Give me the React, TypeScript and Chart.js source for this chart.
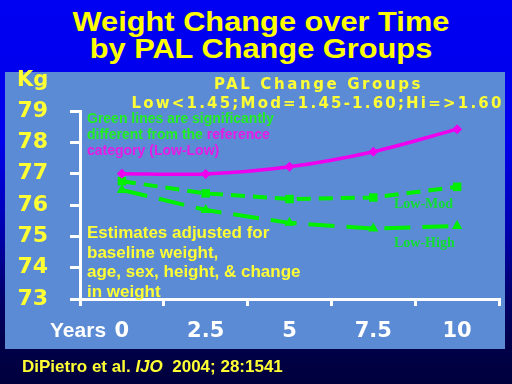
import React, { useEffect, useRef } from 'react';
import { Chart, registerables } from 'chart.js';

Chart.register(...registerables);

// ---- data ----
const years = ['0', '2.5', '5', '7.5', '10'];
const lowLow = [77.0, 76.99, 77.22, 77.7, 78.42];
const lowMod = [76.76, 76.37, 76.19, 76.24, 76.58];
const lowHigh = [76.48, 75.84, 75.43, 75.25, 75.33];
const yMin = 73;
const yMax = 79;

// ---- text ----
const titleLines = ['Weight Change over Time', 'by PAL Change Groups'];
const legendTitle = 'PAL Change Groups';
const legendSub = 'Low<1.45;Mod=1.45-1.60;Hi=>1.60';
const yUnit = 'Kg';
const xUnit = 'Years';
const noteLines = ['baseline weight,', 'age, sex, height, & change', 'in weight'];
const noteFirst = 'Estimates adjusted for';
const modLabel = 'Low-Mod';
const highLabel = 'Low-High';

const YELLOW = '#ffff33';
const GREEN = '#00f000';
const MAGENTA = '#ee00ee';

export default function App() {
  const ref = useRef<HTMLCanvasElement>(null);

  useEffect(() => {
    if (!ref.current) return;
    const chart = new Chart(ref.current, {
      type: 'line',
      data: {
        labels: years,
        datasets: [
          {
            label: 'Low-Low',
            data: lowLow,
            borderColor: MAGENTA,
            backgroundColor: MAGENTA,
            borderWidth: 3.5,
            tension: 0.3,
            pointStyle: 'rectRot',
            pointRadius: 5,
            pointBorderWidth: 0,
            pointBackgroundColor: MAGENTA,
          },
          {
            label: 'Low-Mod',
            data: lowMod,
            borderColor: GREEN,
            backgroundColor: GREEN,
            borderWidth: 4,
            borderDash: [14, 8],
            tension: 0,
            pointStyle: 'rect',
            pointRadius: 6,
            pointBorderWidth: 0,
            pointBackgroundColor: GREEN,
          },
          {
            label: 'Low-High',
            data: lowHigh,
            borderColor: GREEN,
            backgroundColor: GREEN,
            borderWidth: 4,
            borderDash: [26, 12],
            tension: 0,
            pointStyle: 'triangle',
            pointRadius: 6,
            pointBorderWidth: 0,
            pointBackgroundColor: GREEN,
          },
        ],
      },
      options: {
        responsive: false,
        animation: false,
        devicePixelRatio: 1,
        layout: { padding: { top: 39, right: 1, left: 0, bottom: 0 } },
        plugins: {
          legend: { display: false },
          tooltip: { enabled: false },
          title: { display: false },
        },
        scales: {
          x: {
            type: 'category',
            offset: true,
            grid: {
              offset: true,
              drawOnChartArea: false,
              drawTicks: true,
              tickLength: 7,
              color: '#ffffff',
              lineWidth: 3,
            },
            border: { color: '#ffffff', width: 3 },
            ticks: {
              color: '#ffffff',
              font: { family: 'DejaVu Sans', weight: 'bold', size: 21 },
              padding: 13,
              maxRotation: 0,
            },
            afterFit: (s: any) => {
              s.height = 50;
            },
          },
          y: {
            min: yMin,
            max: yMax,
            grid: {
              drawOnChartArea: false,
              drawTicks: true,
              tickLength: 10,
              color: '#ffffff',
              lineWidth: 3,
            },
            border: { color: '#ffffff', width: 3 },
            ticks: {
              stepSize: 1,
              color: YELLOW,
              font: { family: 'DejaVu Sans', weight: 'bold', size: 22 },
              padding: 22,
            },
            afterFit: (s: any) => {
              s.width = 75;
            },
          },
        },
      },
    });
    return () => chart.destroy();
  }, []);

  const abs = (o: React.CSSProperties): React.CSSProperties => ({
    position: 'absolute',
    whiteSpace: 'nowrap',
    margin: 0,
    ...o,
  });

  return (
    <div
      style={{
        position: 'absolute',
        left: 0,
        top: 0,
        width: 512,
        height: 384,
        overflow: 'hidden',
        background:
          'linear-gradient(180deg, #0000f2 0px, #0000ec 140px, #0000b0 230px, #000068 300px, #000048 350px, #00003c 384px)',
        fontFamily: '"Liberation Sans", Arial, sans-serif',
      }}
    >
      {/* title */}
      <div
        style={abs({
          left: 5,
          top: 9,
          width: 512,
          textAlign: 'center',
          color: '#ffff00',
          fontWeight: 'bold',
          fontSize: 27,
          lineHeight: '27px',
          transform: 'scaleX(1.14)',
          transformOrigin: '256px 0',
        })}
      >
        {titleLines[0]}
        <br />
        {titleLines[1]}
      </div>

      {/* panel */}
      <div
        style={{
          position: 'absolute',
          left: 5,
          top: 72,
          width: 500,
          height: 277,
          background: '#5b8bd4',
        }}
      >
        <canvas ref={ref} width={500} height={277} style={{ display: 'block' }} />
      </div>

      {/* axis units */}
      <div
        style={abs({
          left: 17,
          top: 69,
          color: YELLOW,
          fontFamily: '"DejaVu Sans", sans-serif',
          fontWeight: 'bold',
          fontSize: 21,
          lineHeight: 1,
        })}
      >
        {yUnit}
      </div>
      <div
        style={abs({
          left: 50,
          top: 319,
          color: '#ffffff',
          fontWeight: 'bold',
          fontSize: 21,
          lineHeight: 1,
        })}
      >
        {xUnit}
      </div>

      {/* legend title */}
      <div
        style={abs({
          left: 117,
          top: 75,
          width: 403,
          textAlign: 'center',
          color: YELLOW,
          fontFamily: '"DejaVu Sans", sans-serif',
          fontWeight: 'bold',
          fontSize: 15,
          lineHeight: '19px',
          letterSpacing: 2.6,
        })}
      >
        {legendTitle}
      </div>
      <div
        style={abs({
          left: 116,
          top: 94,
          width: 403,
          textAlign: 'center',
          color: YELLOW,
          fontFamily: '"DejaVu Sans", sans-serif',
          fontWeight: 'bold',
          fontSize: 15,
          lineHeight: '19px',
          letterSpacing: 2.2,
        })}
      >
        {legendSub}
      </div>

      {/* significance note */}
      <div
        style={abs({
          left: 87,
          top: 110,
          fontWeight: 'bold',
          fontSize: 14,
          lineHeight: '16px',
          color: '#22ee22',
        })}
      >
        Green lines are significantly
        <br />
        different from the <span style={{ color: '#e81ae8' }}>reference</span>
        <br />
        <span style={{ color: '#e81ae8' }}>category (Low-Low)</span>
      </div>

      {/* adjustment note */}
      <div
        style={abs({
          left: 87,
          top: 223,
          fontWeight: 'bold',
          fontSize: 17,
          lineHeight: '19.5px',
          color: YELLOW,
        })}
      >
        {noteFirst}
        <br />
        {noteLines[0]}
        <br />
        {noteLines[1]}
        <br />
        {noteLines[2]}
      </div>

      {/* series labels */}
      <div
        style={abs({
          left: 394,
          top: 197,
          fontFamily: '"Liberation Serif", serif',
          fontWeight: 'bold',
          fontSize: 14,
          lineHeight: 1,
          color: '#11dd33',
        })}
      >
        {modLabel}
      </div>
      <div
        style={abs({
          left: 394,
          top: 236,
          fontFamily: '"Liberation Serif", serif',
          fontWeight: 'bold',
          fontSize: 14,
          lineHeight: 1,
          color: '#11dd33',
        })}
      >
        {highLabel}
      </div>

      {/* footer */}
      <div
        style={abs({
          left: 22,
          top: 358,
          color: YELLOW,
          fontWeight: 'bold',
          fontSize: 17,
          lineHeight: 1,
        })}
      >
        DiPietro et al. <i>IJO</i>&nbsp; 2004; 28:1541
      </div>
    </div>
  );
}
